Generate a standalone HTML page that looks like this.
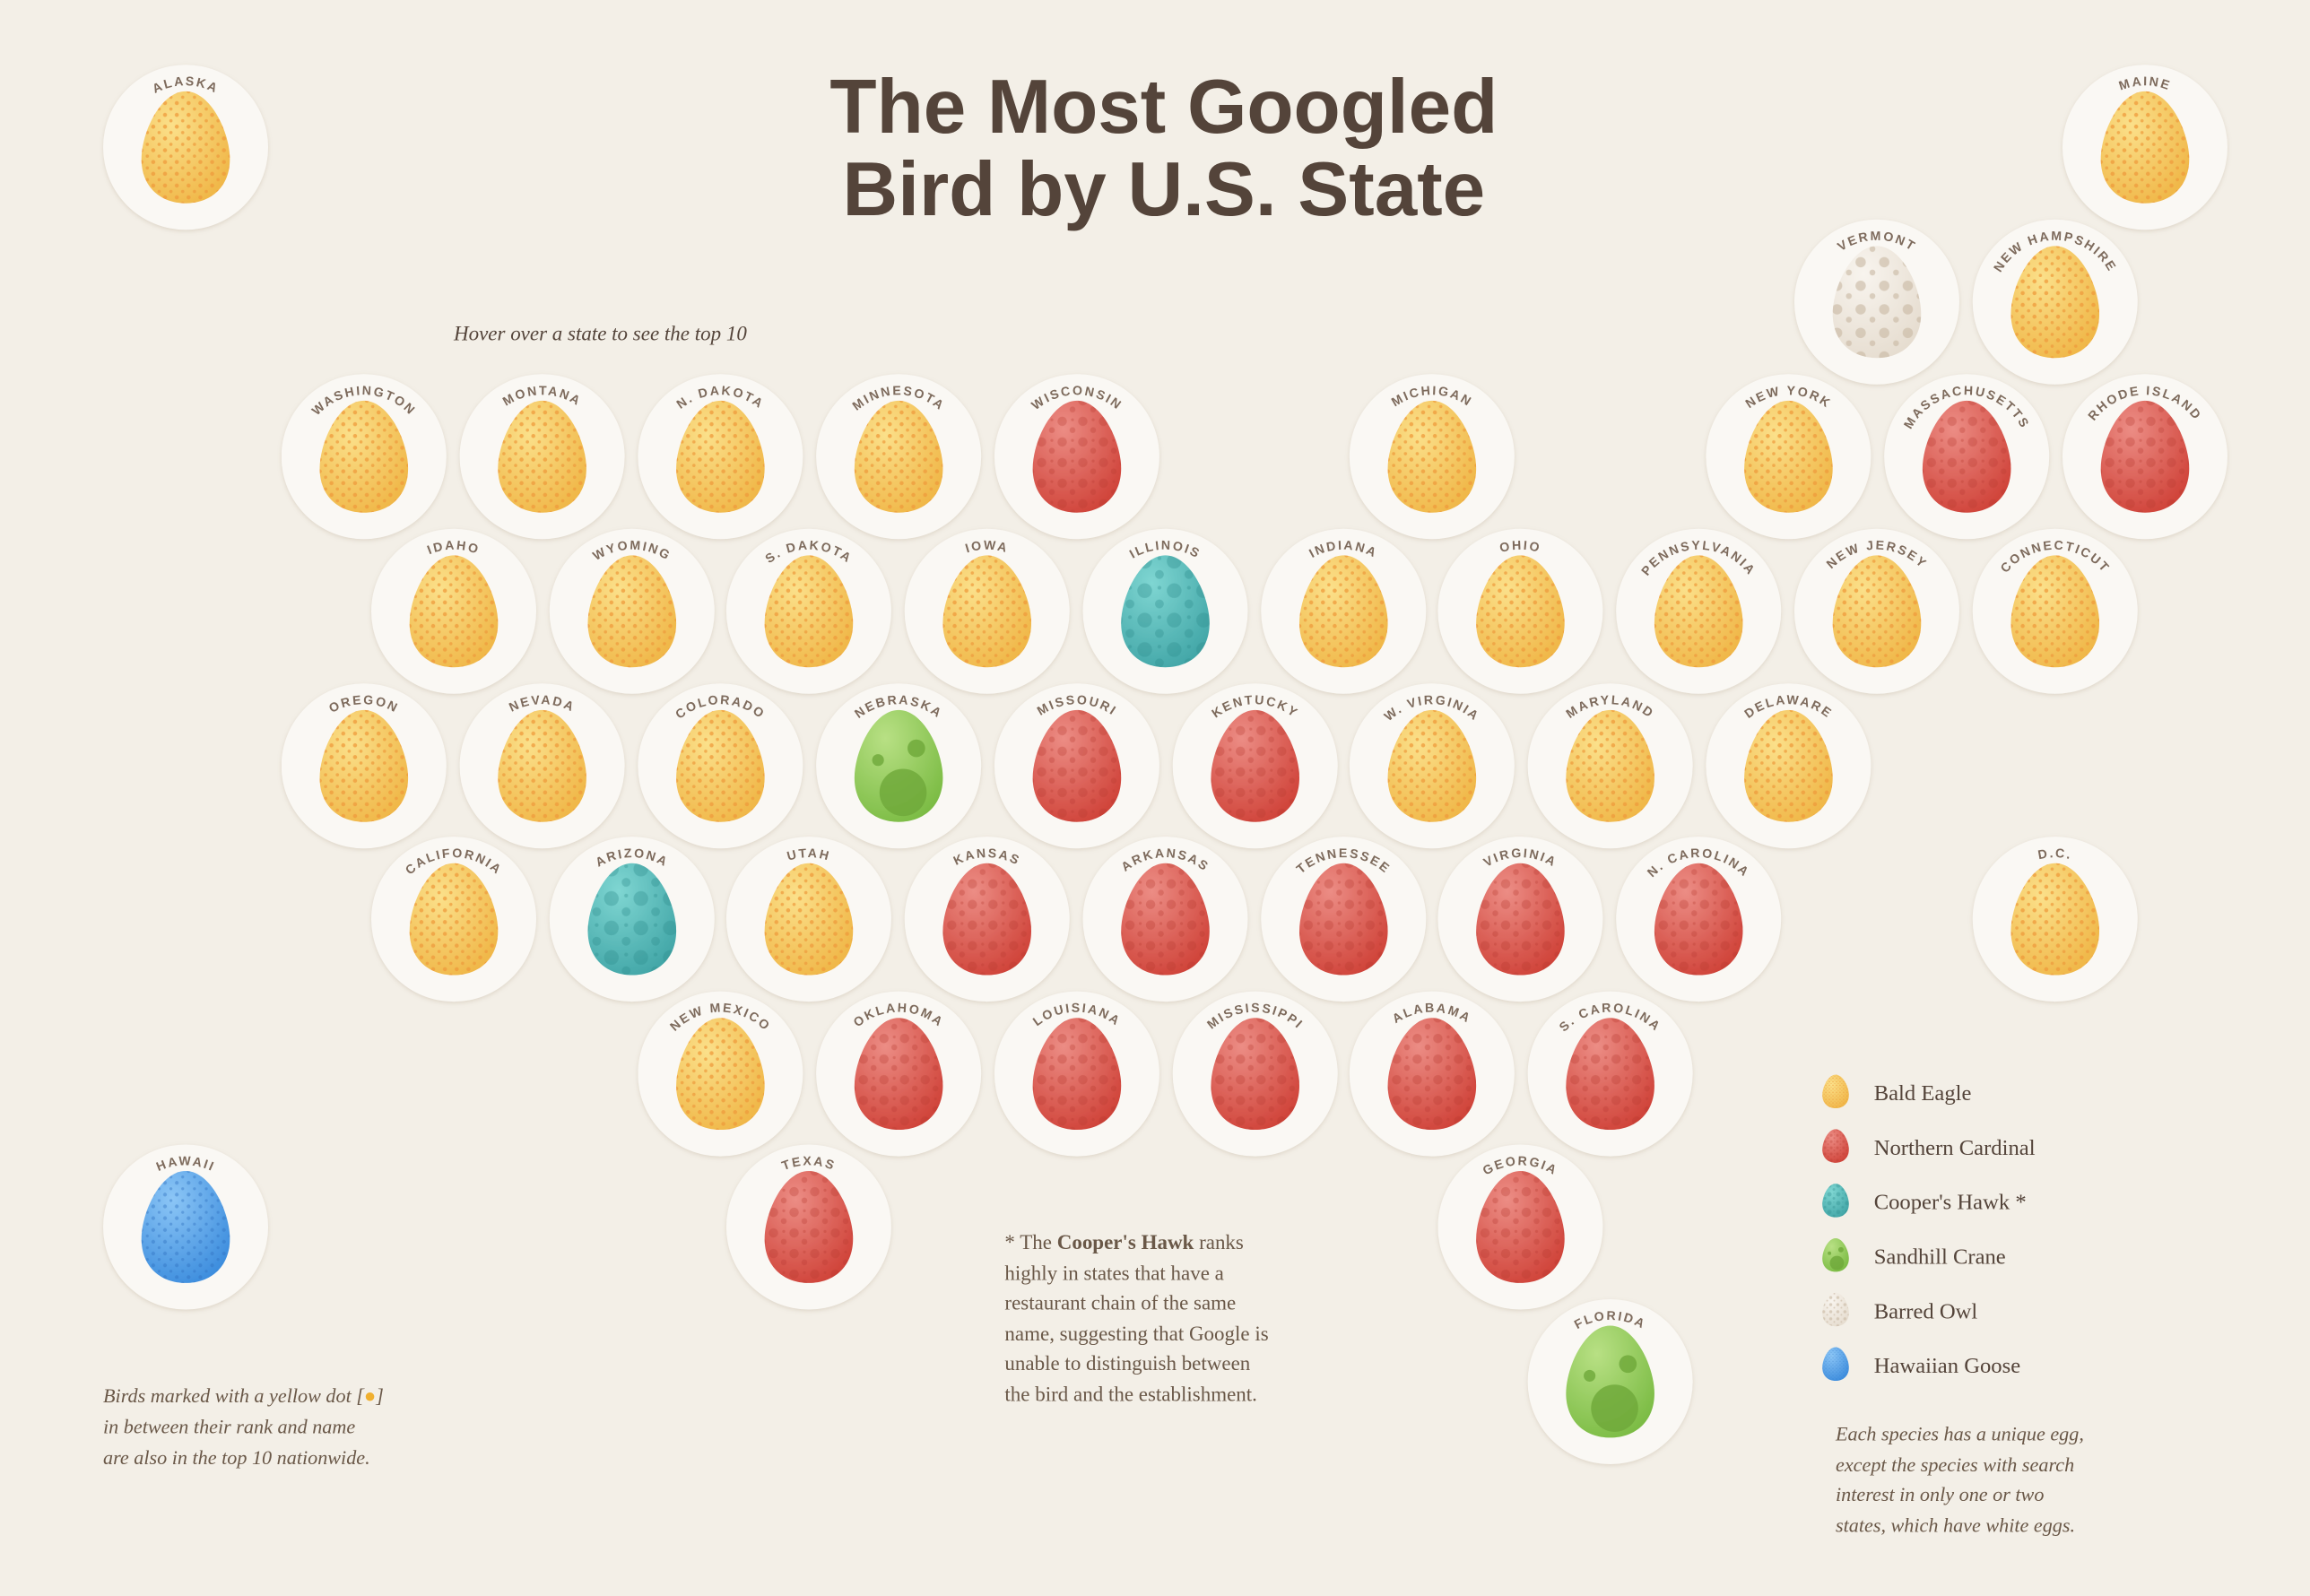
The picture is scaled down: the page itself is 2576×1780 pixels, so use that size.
<!DOCTYPE html>
<html><head><meta charset="utf-8"><style>
html,body{margin:0;padding:0;background:#f3efe7;}
svg{display:block}
.c{fill:#faf8f4}
.l{font-family:"Liberation Sans",sans-serif;font-size:8.6px;letter-spacing:1.3px;fill:#7d6a5b;font-weight:bold}
</style></head><body>
<svg width="2576" height="1780" viewBox="0 0 1568 1083.5" xmlns="http://www.w3.org/2000/svg">
<defs>
<path id="arc" d="M-42,0 A42,42 0 0 1 42,0"/>
<path id="egg" d="M0,-38 C17,-38 30,-10 30,8 C30,27 17,38 0,38 C-17,38 -30,27 -30,8 C-30,-10 -17,-38 0,-38Z"/>
<radialGradient id="gy" cx="35%" cy="30%" r="75%"><stop offset="0" stop-color="#fbe08a"/><stop offset="1" stop-color="#f0b84a"/></radialGradient>
<radialGradient id="gr" cx="35%" cy="25%" r="80%"><stop offset="0" stop-color="#ec8d85"/><stop offset="1" stop-color="#d0443a"/></radialGradient>
<radialGradient id="gt" cx="35%" cy="25%" r="80%"><stop offset="0" stop-color="#7fd6d2"/><stop offset="1" stop-color="#43a7a8"/></radialGradient>
<radialGradient id="gg" cx="35%" cy="25%" r="80%"><stop offset="0" stop-color="#b8e084"/><stop offset="1" stop-color="#7cbc45"/></radialGradient>
<radialGradient id="gw" cx="35%" cy="25%" r="80%"><stop offset="0" stop-color="#f8f4ee"/><stop offset="1" stop-color="#e6ddd0"/></radialGradient>
<radialGradient id="gb" cx="35%" cy="25%" r="80%"><stop offset="0" stop-color="#8cc6f6"/><stop offset="1" stop-color="#3e8ede"/></radialGradient>
<pattern id="py" width="8" height="8" patternUnits="userSpaceOnUse"><circle cx="2" cy="2" r="1.4" fill="#ef9a3c" opacity=".75"/><circle cx="6" cy="6" r="1.1" fill="#ef9a3c" opacity=".7"/></pattern>
<pattern id="pr" width="14" height="14" patternUnits="userSpaceOnUse"><circle cx="4" cy="4" r="3.2" fill="#b83a30" opacity=".3"/><circle cx="11" cy="10" r="2" fill="#b83a30" opacity=".3"/><circle cx="11" cy="3" r="1" fill="#b83a30" opacity=".3"/></pattern>
<pattern id="pt" width="20" height="20" patternUnits="userSpaceOnUse"><circle cx="6" cy="6" r="5" fill="#2e8c8c" opacity=".35"/><circle cx="16" cy="15" r="3" fill="#2e8c8c" opacity=".35"/><circle cx="16" cy="4" r="1.3" fill="#2e8c8c" opacity=".35"/></pattern>
<pattern id="pw" width="16" height="16" patternUnits="userSpaceOnUse"><circle cx="5" cy="5" r="3.5" fill="#c8b7a2" opacity=".6"/><circle cx="13" cy="12" r="2" fill="#c8b7a2" opacity=".6"/></pattern>
<pattern id="pb" width="8" height="8" patternUnits="userSpaceOnUse"><circle cx="2" cy="2" r="1.3" fill="#2e6fbe" opacity=".4"/><circle cx="6" cy="6" r="1" fill="#2e6fbe" opacity=".4"/></pattern>
<g id="Y"><use href="#egg" fill="url(#gy)"/><use href="#egg" fill="url(#py)"/></g>
<g id="R"><use href="#egg" fill="url(#gr)"/><use href="#egg" fill="url(#pr)"/></g>
<g id="T"><use href="#egg" fill="url(#gt)"/><use href="#egg" fill="url(#pt)"/></g>
<g id="W"><use href="#egg" fill="url(#gw)"/><use href="#egg" fill="url(#pw)"/></g>
<g id="B"><use href="#egg" fill="url(#gb)"/><use href="#egg" fill="url(#pb)"/></g>
<g id="G"><use href="#egg" fill="url(#gg)"/><circle cx="3" cy="18" r="16" fill="#6ea83a" opacity=".8"/><circle cx="12" cy="-12" r="6" fill="#6ea83a" opacity=".8"/><circle cx="-14" cy="-4" r="4" fill="#6ea83a" opacity=".8"/></g>
<filter id="sh" x="-20%" y="-20%" width="140%" height="140%"><feDropShadow dx="0" dy="1" stdDeviation="1.5" flood-color="#b8a890" flood-opacity=".35"/></filter>
</defs>
<rect width="1568" height="1084" fill="#f3efe7"/>
<text x="790" y="90" text-anchor="middle" font-family="Liberation Sans,sans-serif" font-weight="bold" font-size="52" fill="#54443a">The Most Googled</text>
<text x="790" y="146" text-anchor="middle" font-family="Liberation Sans,sans-serif" font-weight="bold" font-size="52" fill="#54443a">Bird by U.S. State</text>
<text x="308" y="231" font-family="Liberation Serif,serif" font-style="italic" font-size="14" fill="#54443a">Hover over a state to see the top 10</text>

<g filter="url(#sh)">
<g transform="translate(126,100)"><circle class="c" r="56"/><use href="#Y"/><text class="l"><textPath href="#arc" startOffset="50%" text-anchor="middle">ALASKA</textPath></text></g>
<g transform="translate(1456,100)"><circle class="c" r="56"/><use href="#Y"/><text class="l"><textPath href="#arc" startOffset="50%" text-anchor="middle">MAINE</textPath></text></g>
<g transform="translate(1274,205)"><circle class="c" r="56"/><use href="#W"/><text class="l"><textPath href="#arc" startOffset="50%" text-anchor="middle">VERMONT</textPath></text></g>
<g transform="translate(1395,205)"><circle class="c" r="56"/><use href="#Y"/><text class="l"><textPath href="#arc" startOffset="50%" text-anchor="middle">NEW HAMPSHIRE</textPath></text></g>

<g transform="translate(247,310)"><circle class="c" r="56"/><use href="#Y"/><text class="l"><textPath href="#arc" startOffset="50%" text-anchor="middle">WASHINGTON</textPath></text></g>
<g transform="translate(368,310)"><circle class="c" r="56"/><use href="#Y"/><text class="l"><textPath href="#arc" startOffset="50%" text-anchor="middle">MONTANA</textPath></text></g>
<g transform="translate(489,310)"><circle class="c" r="56"/><use href="#Y"/><text class="l"><textPath href="#arc" startOffset="50%" text-anchor="middle">N. DAKOTA</textPath></text></g>
<g transform="translate(610,310)"><circle class="c" r="56"/><use href="#Y"/><text class="l"><textPath href="#arc" startOffset="50%" text-anchor="middle">MINNESOTA</textPath></text></g>
<g transform="translate(731,310)"><circle class="c" r="56"/><use href="#R"/><text class="l"><textPath href="#arc" startOffset="50%" text-anchor="middle">WISCONSIN</textPath></text></g>
<g transform="translate(972,310)"><circle class="c" r="56"/><use href="#Y"/><text class="l"><textPath href="#arc" startOffset="50%" text-anchor="middle">MICHIGAN</textPath></text></g>
<g transform="translate(1214,310)"><circle class="c" r="56"/><use href="#Y"/><text class="l"><textPath href="#arc" startOffset="50%" text-anchor="middle">NEW YORK</textPath></text></g>
<g transform="translate(1335,310)"><circle class="c" r="56"/><use href="#R"/><text class="l"><textPath href="#arc" startOffset="50%" text-anchor="middle">MASSACHUSETTS</textPath></text></g>
<g transform="translate(1456,310)"><circle class="c" r="56"/><use href="#R"/><text class="l"><textPath href="#arc" startOffset="50%" text-anchor="middle">RHODE ISLAND</textPath></text></g>

<g transform="translate(308,415)"><circle class="c" r="56"/><use href="#Y"/><text class="l"><textPath href="#arc" startOffset="50%" text-anchor="middle">IDAHO</textPath></text></g>
<g transform="translate(429,415)"><circle class="c" r="56"/><use href="#Y"/><text class="l"><textPath href="#arc" startOffset="50%" text-anchor="middle">WYOMING</textPath></text></g>
<g transform="translate(549,415)"><circle class="c" r="56"/><use href="#Y"/><text class="l"><textPath href="#arc" startOffset="50%" text-anchor="middle">S. DAKOTA</textPath></text></g>
<g transform="translate(670,415)"><circle class="c" r="56"/><use href="#Y"/><text class="l"><textPath href="#arc" startOffset="50%" text-anchor="middle">IOWA</textPath></text></g>
<g transform="translate(791,415)"><circle class="c" r="56"/><use href="#T"/><text class="l"><textPath href="#arc" startOffset="50%" text-anchor="middle">ILLINOIS</textPath></text></g>
<g transform="translate(912,415)"><circle class="c" r="56"/><use href="#Y"/><text class="l"><textPath href="#arc" startOffset="50%" text-anchor="middle">INDIANA</textPath></text></g>
<g transform="translate(1032,415)"><circle class="c" r="56"/><use href="#Y"/><text class="l"><textPath href="#arc" startOffset="50%" text-anchor="middle">OHIO</textPath></text></g>
<g transform="translate(1153,415)"><circle class="c" r="56"/><use href="#Y"/><text class="l"><textPath href="#arc" startOffset="50%" text-anchor="middle">PENNSYLVANIA</textPath></text></g>
<g transform="translate(1274,415)"><circle class="c" r="56"/><use href="#Y"/><text class="l"><textPath href="#arc" startOffset="50%" text-anchor="middle">NEW JERSEY</textPath></text></g>
<g transform="translate(1395,415)"><circle class="c" r="56"/><use href="#Y"/><text class="l"><textPath href="#arc" startOffset="50%" text-anchor="middle">CONNECTICUT</textPath></text></g>

<g transform="translate(247,520)"><circle class="c" r="56"/><use href="#Y"/><text class="l"><textPath href="#arc" startOffset="50%" text-anchor="middle">OREGON</textPath></text></g>
<g transform="translate(368,520)"><circle class="c" r="56"/><use href="#Y"/><text class="l"><textPath href="#arc" startOffset="50%" text-anchor="middle">NEVADA</textPath></text></g>
<g transform="translate(489,520)"><circle class="c" r="56"/><use href="#Y"/><text class="l"><textPath href="#arc" startOffset="50%" text-anchor="middle">COLORADO</textPath></text></g>
<g transform="translate(610,520)"><circle class="c" r="56"/><use href="#G"/><text class="l"><textPath href="#arc" startOffset="50%" text-anchor="middle">NEBRASKA</textPath></text></g>
<g transform="translate(731,520)"><circle class="c" r="56"/><use href="#R"/><text class="l"><textPath href="#arc" startOffset="50%" text-anchor="middle">MISSOURI</textPath></text></g>
<g transform="translate(852,520)"><circle class="c" r="56"/><use href="#R"/><text class="l"><textPath href="#arc" startOffset="50%" text-anchor="middle">KENTUCKY</textPath></text></g>
<g transform="translate(972,520)"><circle class="c" r="56"/><use href="#Y"/><text class="l"><textPath href="#arc" startOffset="50%" text-anchor="middle">W. VIRGINIA</textPath></text></g>
<g transform="translate(1093,520)"><circle class="c" r="56"/><use href="#Y"/><text class="l"><textPath href="#arc" startOffset="50%" text-anchor="middle">MARYLAND</textPath></text></g>
<g transform="translate(1214,520)"><circle class="c" r="56"/><use href="#Y"/><text class="l"><textPath href="#arc" startOffset="50%" text-anchor="middle">DELAWARE</textPath></text></g>

<g transform="translate(308,624)"><circle class="c" r="56"/><use href="#Y"/><text class="l"><textPath href="#arc" startOffset="50%" text-anchor="middle">CALIFORNIA</textPath></text></g>
<g transform="translate(429,624)"><circle class="c" r="56"/><use href="#T"/><text class="l"><textPath href="#arc" startOffset="50%" text-anchor="middle">ARIZONA</textPath></text></g>
<g transform="translate(549,624)"><circle class="c" r="56"/><use href="#Y"/><text class="l"><textPath href="#arc" startOffset="50%" text-anchor="middle">UTAH</textPath></text></g>
<g transform="translate(670,624)"><circle class="c" r="56"/><use href="#R"/><text class="l"><textPath href="#arc" startOffset="50%" text-anchor="middle">KANSAS</textPath></text></g>
<g transform="translate(791,624)"><circle class="c" r="56"/><use href="#R"/><text class="l"><textPath href="#arc" startOffset="50%" text-anchor="middle">ARKANSAS</textPath></text></g>
<g transform="translate(912,624)"><circle class="c" r="56"/><use href="#R"/><text class="l"><textPath href="#arc" startOffset="50%" text-anchor="middle">TENNESSEE</textPath></text></g>
<g transform="translate(1032,624)"><circle class="c" r="56"/><use href="#R"/><text class="l"><textPath href="#arc" startOffset="50%" text-anchor="middle">VIRGINIA</textPath></text></g>
<g transform="translate(1153,624)"><circle class="c" r="56"/><use href="#R"/><text class="l"><textPath href="#arc" startOffset="50%" text-anchor="middle">N. CAROLINA</textPath></text></g>
<g transform="translate(1395,624)"><circle class="c" r="56"/><use href="#Y"/><text class="l"><textPath href="#arc" startOffset="50%" text-anchor="middle">D.C.</textPath></text></g>

<g transform="translate(489,729)"><circle class="c" r="56"/><use href="#Y"/><text class="l"><textPath href="#arc" startOffset="50%" text-anchor="middle">NEW MEXICO</textPath></text></g>
<g transform="translate(610,729)"><circle class="c" r="56"/><use href="#R"/><text class="l"><textPath href="#arc" startOffset="50%" text-anchor="middle">OKLAHOMA</textPath></text></g>
<g transform="translate(731,729)"><circle class="c" r="56"/><use href="#R"/><text class="l"><textPath href="#arc" startOffset="50%" text-anchor="middle">LOUISIANA</textPath></text></g>
<g transform="translate(852,729)"><circle class="c" r="56"/><use href="#R"/><text class="l"><textPath href="#arc" startOffset="50%" text-anchor="middle">MISSISSIPPI</textPath></text></g>
<g transform="translate(972,729)"><circle class="c" r="56"/><use href="#R"/><text class="l"><textPath href="#arc" startOffset="50%" text-anchor="middle">ALABAMA</textPath></text></g>
<g transform="translate(1093,729)"><circle class="c" r="56"/><use href="#R"/><text class="l"><textPath href="#arc" startOffset="50%" text-anchor="middle">S. CAROLINA</textPath></text></g>

<g transform="translate(126,833)"><circle class="c" r="56"/><use href="#B"/><text class="l"><textPath href="#arc" startOffset="50%" text-anchor="middle">HAWAII</textPath></text></g>
<g transform="translate(549,833)"><circle class="c" r="56"/><use href="#R"/><text class="l"><textPath href="#arc" startOffset="50%" text-anchor="middle">TEXAS</textPath></text></g>
<g transform="translate(1032,833)"><circle class="c" r="56"/><use href="#R"/><text class="l"><textPath href="#arc" startOffset="50%" text-anchor="middle">GEORGIA</textPath></text></g>
<g transform="translate(1093,938)"><circle class="c" r="56"/><use href="#G"/><text class="l"><textPath href="#arc" startOffset="50%" text-anchor="middle">FLORIDA</textPath></text></g>
</g>

<g font-family="Liberation Serif,serif" font-size="15" fill="#54443a">
<use href="#Y" transform="translate(1246,741) scale(0.3)"/><text x="1272" y="747">Bald Eagle</text>
<use href="#R" transform="translate(1246,778) scale(0.3)"/><text x="1272" y="784">Northern Cardinal</text>
<use href="#T" transform="translate(1246,815) scale(0.3)"/><text x="1272" y="821">Cooper's Hawk *</text>
<use href="#G" transform="translate(1246,852) scale(0.3)"/><text x="1272" y="858">Sandhill Crane</text>
<use href="#W" transform="translate(1246,889) scale(0.3)"/><text x="1272" y="895">Barred Owl</text>
<use href="#B" transform="translate(1246,926) scale(0.3)"/><text x="1272" y="932">Hawaiian Goose</text>
</g>
<g font-family="Liberation Serif,serif" font-size="14" fill="#6a5848">
<text x="682" y="848">* The <tspan font-weight="bold">Cooper's Hawk</tspan> ranks</text>
<text x="682" y="869">highly in states that have a</text>
<text x="682" y="889">restaurant chain of the same</text>
<text x="682" y="910">name, suggesting that Google is</text>
<text x="682" y="930">unable to distinguish between</text>
<text x="682" y="951">the bird and the establishment.</text>
</g>
<g font-family="Liberation Serif,serif" font-size="13.5" font-style="italic" fill="#6a5848">
<text x="70" y="952">Birds marked with a yellow dot [<tspan fill="#f0b030">●</tspan>]</text>
<text x="70" y="973">in between their rank and name</text>
<text x="70" y="994">are also in the top 10 nationwide.</text>
<text x="1246" y="978">Each species has a unique egg,</text>
<text x="1246" y="999">except the species with search</text>
<text x="1246" y="1019">interest in only one or two</text>
<text x="1246" y="1040">states, which have white eggs.</text>
</g>
</svg>
</body></html>
